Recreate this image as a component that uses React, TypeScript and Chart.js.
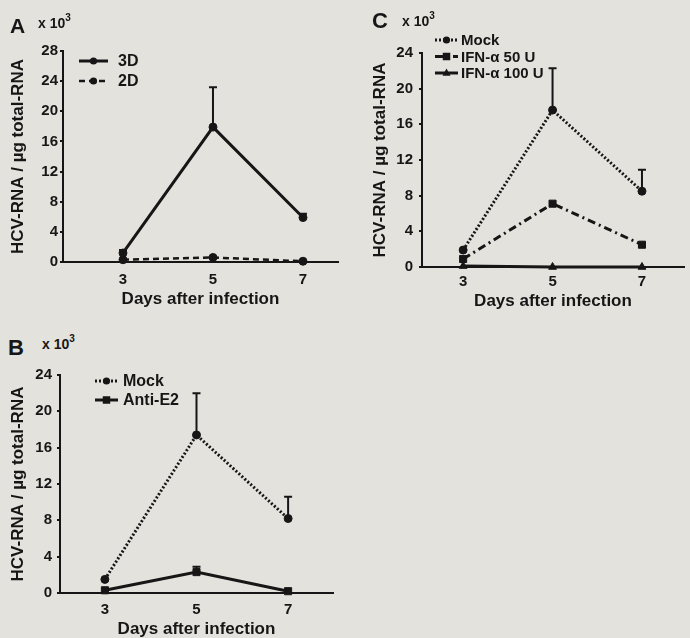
import React, { useEffect, useRef } from 'react';
import { Chart, registerables } from 'chart.js';

Chart.register(...registerables);

// ---------- data ----------
const DAYS = [3, 5, 7];
const X_TICKS = [3, 5, 7];

const A_LABELS = ['3D', '2D'];
const A_3D = [1.2, 17.9, 5.9];
const A_3D_ERR = [0.4, 5.3, 0.5];
const A_2D = [0.3, 0.6, 0.1];
const A_2D_ERR = [0, 0, 0];

const B_LABELS = ['Mock', 'Anti-E2'];
const B_MOCK = [1.5, 17.4, 8.2];
const B_MOCK_ERR = [0, 4.6, 2.4];
const B_ANTI = [0.3, 2.3, 0.2];
const B_ANTI_ERR = [0, 0.6, 0];

const C_LABELS = ['Mock', 'IFN-α 50 U', 'IFN-α 100 U'];
const C_MOCK = [1.9, 17.6, 8.5];
const C_MOCK_ERR = [0, 4.7, 2.4];
const C_IFN50 = [0.9, 7.1, 2.5];
const C_IFN100 = [0.1, 0, 0];

const Y_TITLE = 'HCV-RNA / µg total-RNA';
const X_TITLE = 'Days after infection';

// ---------- style ----------
const INK = '#161616';
const BG = '#e4e2dd';
const FAMILY = "'Liberation Sans', Arial, sans-serif";

function drawMarker(ctx: CanvasRenderingContext2D, style: string, x: number, y: number, r: number) {
  ctx.save();
  ctx.fillStyle = INK;
  ctx.beginPath();
  if (style === 'rect') {
    const h = r * 0.75;
    ctx.rect(x - h, y - h, 2 * h, 2 * h);
  } else if (style === 'triangle') {
    ctx.moveTo(x, y - r * 1.0);
    ctx.lineTo(x + r * 0.9, y + r * 0.6);
    ctx.lineTo(x - r * 0.9, y + r * 0.6);
    ctx.closePath();
  } else {
    ctx.arc(x, y, r * 0.9, 0, Math.PI * 2);
  }
  ctx.fill();
  ctx.restore();
}

const errorBarPlugin = {
  id: 'errorBars',
  afterDatasetsDraw(chart: any) {
    const { ctx, scales } = chart;
    const xs = scales.x;
    const ys = scales.y;
    chart.data.datasets.forEach((ds: any) => {
      const errs: number[] = ds.errorBars;
      if (!errs) return;
      ds.data.forEach((pt: any, j: number) => {
        const e = errs[j];
        if (!e) return;
        const px = xs.getPixelForValue(pt.x);
        const py = ys.getPixelForValue(pt.y);
        const pe = ys.getPixelForValue(pt.y + e);
        ctx.save();
        ctx.strokeStyle = INK;
        ctx.lineWidth = 2;
        ctx.setLineDash([]);
        ctx.beginPath();
        ctx.moveTo(px, py);
        ctx.lineTo(px, pe);
        ctx.moveTo(px - 4, pe);
        ctx.lineTo(px + 4, pe);
        ctx.stroke();
        ctx.restore();
      });
    });
  },
};

const legendPlugin = {
  id: 'inLegend',
  afterDraw(chart: any, _args: any, opts: any) {
    const ctx: CanvasRenderingContext2D = chart.ctx;
    chart.data.datasets.forEach((ds: any, i: number) => {
      const y = opts.y + i * opts.dy;
      ctx.save();
      ctx.strokeStyle = INK;
      ctx.lineWidth = ds.borderWidth;
      ctx.setLineDash(ds.borderDash || []);
      ctx.beginPath();
      ctx.moveTo(opts.x, y);
      ctx.lineTo(opts.x + opts.len, y);
      ctx.stroke();
      ctx.setLineDash([]);
      drawMarker(ctx, ds.pointStyle, opts.x + opts.len / 2, y, ds.pointRadius);
      ctx.font = `bold ${opts.size}px ${FAMILY}`;
      ctx.fillStyle = INK;
      ctx.textBaseline = 'middle';
      ctx.textAlign = 'left';
      ctx.fillText(ds.label, opts.x + opts.len + opts.gap, y + 1);
      ctx.restore();
    });
  },
};

interface Series {
  label: string;
  values: number[];
  errors: number[];
  width: number;
  dash: number[];
  point: string;
  radius: number;
}

interface PanelDef {
  left: number;
  top: number;
  width: number;
  height: number;
  padTop: number;
  padRight: number;
  yWidth: number;
  xHeight: number;
  xMin: number;
  xMax: number;
  yMax: number;
  yTickPad: number;
  xTickPad: number;
  yTitlePad: number;
  legend: { x: number; y: number; dy: number; len: number; gap: number; size: number };
  series: Series[];
}

const PANELS: PanelDef[] = [
  {
    left: 0, top: 30, width: 345, height: 280,
    padTop: 21, padRight: 7, yWidth: 63, xHeight: 48,
    xMin: 1.667, xMax: 7.778, yMax: 28, yTickPad: 2, xTickPad: 6, yTitlePad: 7.8,
    legend: { x: 79, y: 31, dy: 20, len: 29, gap: 10, size: 16 },
    series: [
      { label: A_LABELS[0], values: A_3D, errors: A_3D_ERR, width: 3, dash: [], point: 'circle', radius: 4 },
      { label: A_LABELS[1], values: A_2D, errors: A_2D_ERR, width: 2.5, dash: [6, 4], point: 'circle', radius: 4 },
    ],
  },
  {
    left: 0, top: 360, width: 345, height: 280,
    padTop: 15, padRight: 12, yWidth: 60, xHeight: 47,
    xMin: 2.02, xMax: 7.98, yMax: 24, yTickPad: 5, xTickPad: 5, yTitlePad: 7.8,
    legend: { x: 95, y: 21, dy: 19, len: 23, gap: 5, size: 16 },
    series: [
      { label: B_LABELS[0], values: B_MOCK, errors: B_MOCK_ERR, width: 3, dash: [2, 2], point: 'circle', radius: 4 },
      { label: B_LABELS[1], values: B_ANTI, errors: B_ANTI_ERR, width: 3, dash: [], point: 'rect', radius: 5 },
    ],
  },
  {
    left: 345, top: 30, width: 345, height: 282,
    padTop: 23, padRight: 0, yWidth: 77, xHeight: 45,
    xMin: 2.08, xMax: 7.94, yMax: 24, yTickPad: 6, xTickPad: 3, yTitlePad: 24.8,
    legend: { x: 90, y: 10, dy: 16.5, len: 23, gap: 3, size: 15 },
    series: [
      { label: C_LABELS[0], values: C_MOCK, errors: C_MOCK_ERR, width: 3, dash: [2, 2], point: 'circle', radius: 4 },
      { label: C_LABELS[1], values: C_IFN50, errors: [0, 0, 0], width: 3, dash: [8, 4, 2, 4], point: 'rect', radius: 5 },
      { label: C_LABELS[2], values: C_IFN100, errors: [0, 0, 0], width: 3, dash: [], point: 'triangle', radius: 4.5 },
    ],
  },
];

function makeConfig(p: PanelDef): any {
  return {
    type: 'line',
    data: {
      datasets: p.series.map((s) => ({
        label: s.label,
        data: DAYS.map((d, i) => ({ x: d, y: s.values[i] })),
        errorBars: s.errors,
        borderColor: INK,
        backgroundColor: INK,
        borderWidth: s.width,
        borderDash: s.dash,
        pointStyle: s.point,
        pointRadius: s.radius,
        pointBackgroundColor: INK,
        pointBorderColor: INK,
        pointBorderWidth: 1,
        tension: 0,
        fill: false,
        clip: false,
      })),
    },
    options: {
      responsive: false,
      maintainAspectRatio: false,
      animation: false,
      layout: { padding: { top: p.padTop, right: p.padRight, left: 0, bottom: 0 } },
      plugins: {
        legend: { display: false },
        tooltip: { enabled: false },
        inLegend: p.legend,
      },
      scales: {
        x: {
          type: 'linear',
          min: p.xMin,
          max: p.xMax,
          afterBuildTicks: (s: any) => {
            s.ticks = X_TICKS.map((v) => ({ value: v }));
          },
          afterFit: (s: any) => {
            s.height = p.xHeight;
          },
          ticks: {
            color: INK,
            padding: p.xTickPad,
            font: { family: FAMILY, size: 15, weight: 'bold' },
          },
          grid: { display: true, drawOnChartArea: false, drawTicks: true, tickLength: 3, color: 'rgba(0,0,0,0)' },
          border: { display: true, color: INK, width: 2 },
          title: {
            display: true,
            text: X_TITLE,
            color: INK,
            padding: { top: 0, bottom: 0 },
            font: { family: FAMILY, size: 17, weight: 'bold' },
          },
        },
        y: {
          type: 'linear',
          min: 0,
          max: p.yMax,
          ticks: {
            stepSize: 4,
            color: INK,
            padding: p.yTickPad,
            font: { family: FAMILY, size: 15, weight: 'bold' },
          },
          afterFit: (s: any) => {
            s.width = p.yWidth;
          },
          grid: { display: true, drawOnChartArea: false, drawTicks: true, tickLength: 3, color: INK, lineWidth: 2 },
          border: { display: true, color: INK, width: 2 },
          title: {
            display: true,
            text: Y_TITLE,
            color: INK,
            padding: { top: p.yTitlePad, bottom: 0 },
            font: { family: FAMILY, size: 17, weight: 'bold' },
          },
        },
      },
    },
    plugins: [errorBarPlugin, legendPlugin],
  };
}

function Panel({ def }: { def: PanelDef }) {
  const ref = useRef<HTMLCanvasElement | null>(null);
  useEffect(() => {
    if (!ref.current) return;
    const chart = new Chart(ref.current, makeConfig(def));
    return () => chart.destroy();
  }, [def]);
  return (
    <canvas
      ref={ref}
      width={def.width}
      height={def.height}
      style={{ position: 'absolute', left: def.left, top: def.top, width: def.width, height: def.height }}
    />
  );
}

const letterStyle = (left: number, top: number, size: number): React.CSSProperties => ({
  position: 'absolute',
  left,
  top,
  fontFamily: FAMILY,
  fontWeight: 'bold',
  fontSize: size,
  lineHeight: 1,
  color: INK,
  whiteSpace: 'nowrap',
});

function Exp({ left, top }: { left: number; top: number }) {
  return (
    <span style={letterStyle(left, top, 14)}>
      x 10<sup style={{ fontSize: 10, verticalAlign: 'top', position: 'relative', top: -3 }}>3</sup>
    </span>
  );
}

export default function App() {
  return (
    <div
      style={{
        position: 'fixed',
        left: 0,
        top: 0,
        width: 690,
        height: 638,
        overflow: 'hidden',
        background: BG,
      }}
    >
      {PANELS.map((p, i) => (
        <Panel key={i} def={p} />
      ))}
      <span style={letterStyle(10, 15, 21)}>A</span>
      <Exp left={38} top={16} />
      <span style={letterStyle(8, 337, 22)}>B</span>
      <Exp left={42} top={337} />
      <span style={letterStyle(372, 10, 22)}>C</span>
      <Exp left={402} top={14} />
    </div>
  );
}
